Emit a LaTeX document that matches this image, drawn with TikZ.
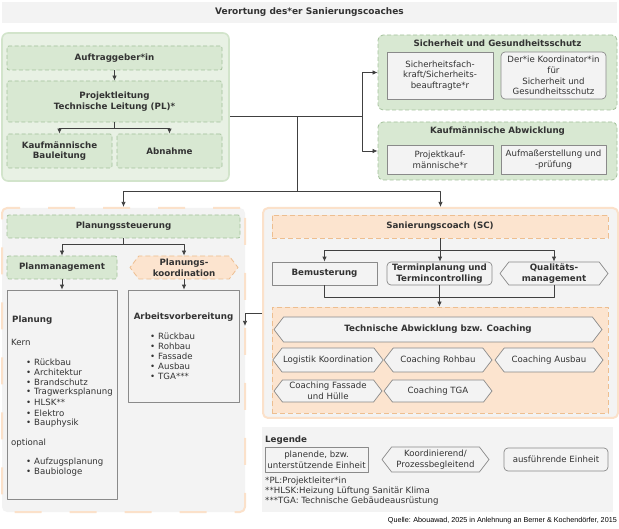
\documentclass[tikz,border=0pt]{standalone}
\usepackage{fontspec}
\setmainfont{DejaVu Sans}
\newfontfamily\quellfont{Liberation Sans}
\usetikzlibrary{arrows.meta,shapes.symbols}
\definecolor{txt}{HTML}{333333}
\definecolor{lncol}{HTML}{404040}
\definecolor{bgcol}{HTML}{F3F3F3}
\definecolor{grnfill}{HTML}{D8E8D2}
\definecolor{grnline}{HTML}{A3C19B}
\definecolor{grnbg}{HTML}{E8F1E4}
\definecolor{grnbgline}{HTML}{D2E4CB}
\definecolor{orfill}{HTML}{FCE4CF}
\definecolor{orline}{HTML}{EDBE90}
\definecolor{orbgline}{HTML}{FBE1CA}
\definecolor{gryfill}{HTML}{F3F3F3}
\definecolor{gryline}{HTML}{8A8A8A}
\newcommand{\fnorm}{\fontsize{8.6}{10.6}\selectfont}
\newcommand{\fbold}{\fontsize{8.7}{10.6}\selectfont\bfseries}
\begin{document}
\begin{tikzpicture}[x=1pt,y=-1pt,font=\fnorm,line join=round,>={Latex[length=5pt,width=4.4pt]}]
	\tikzset{box/.style={inner sep=1pt, align=center, text=txt},
		head/.style={box, font=\fbold},
		grn/.style={head, draw=grnline, fill=grnfill, dash pattern=on 4pt off 2.5pt, line width=0.8pt, rounded corners=2pt},
		grnct/.style={draw=grnline, fill=grnfill, dash pattern=on 4pt off 2.5pt, line width=0.8pt, rounded corners=5pt},
		orn/.style={head, draw=orline, fill=orfill, dash pattern=on 5pt off 3pt, line width=0.8pt},
		gry/.style={box, draw=gryline, fill=gryfill, line width=0.7pt},
		gryr/.style={gry, rounded corners=4pt},
		hex/.style={gry, shape=signal, signal to=west and east, signal pointer angle=105},
		orhex/.style={orn, shape=signal, signal to=west and east, signal pointer angle=105},
		item/.style={box, anchor=west, inner sep=0pt},
		ln/.style={draw=lncol, line width=0.75pt}}
	\useasboundingbox (0,0) rectangle (619,529);
	% Titel
	\node[fill=bgcol, font=\fontsize{9}{11}\selectfont\bfseries, text=txt, minimum width=615, minimum height=21] (titel) at (309.5,12.5) {Verortung des*er Sanierungscoaches};
	% Auftraggeber
	\node[draw=grnbgline, fill=grnbg, line width=1.6pt, rounded corners=6pt, minimum width=227, minimum height=148] (oben) at (115.5,107) {};
	\node[grn, minimum width=215, minimum height=24] (ag) at (114.5,58) {Auftraggeber*in};
	\node[grn, minimum width=215, minimum height=41] (pl) at (114.5,101.5) {Projektleitung\\Technische Leitung (PL)*};
	\node[grn, minimum width=105, minimum height=34] (kbl) at (59.5,151) {Kaufmännische\\Bauleitung};
	\node[grn, minimum width=105, minimum height=34] (abn) at (169.5,151) {Abnahme};
	\draw[ln,->] (ag) -- (pl);
	\draw[ln,->] (pl.south) -- ++(0,6) -| (kbl.north);
	\draw[ln,->] (pl.south) -- ++(0,6) -| (abn.north);
	% Sicherheit / Kaufmaennisch
	\node[grnct, minimum width=239, minimum height=75, label={[head, anchor=north, yshift=-4pt]north:Sicherheit und Gesundheitsschutz}] (sgs) at (497.5,72.5) {};
	\node[gry, minimum width=106, minimum height=47] (sifa) at (440,75.5) {Sicherheitsfach-\\kraft/Sicherheits-\\beauftragte*r};
	\node[gryr, minimum width=105, minimum height=47] (siko) at (553.5,75.5) {Der*ie Koordinator*in\\für\\Sicherheit und\\Gesundheitsschutz};
	\node[grnct, minimum width=239, minimum height=58, label={[head, anchor=north, yshift=-4pt]north:Kaufmännische Abwicklung}] (kfa) at (497.5,151) {};
	\node[gry, minimum width=106, minimum height=29] (pkm) at (440,159.5) {Projektkauf-\\männische*r};
	\node[gry, minimum width=105, minimum height=29] (aufm) at (553.5,159.5) {Aufmaßerstellung und\\-prüfung};
	% Planung (links)
	\node[draw=orbgline, fill=bgcol, line width=2pt, dash pattern=on 27pt off 28pt, rounded corners=5pt, minimum width=243, minimum height=304] (links) at (123.5,360) {};
	\node[grn, minimum width=233, minimum height=23] (pst) at (123.5,226.5) {Planungssteuerung};
	\node[grn, minimum width=110, minimum height=23] (pm) at (62,267.5) {Planmanagement};
	\node[orhex, minimum width=108, minimum height=23] (pko) at (184,267.5) {Planungs-\\koordination};
	\node[gry, minimum width=110, minimum height=209] (pla) at (62,394.5) {};
	\node[gry, minimum width=111, minimum height=112] (avb) at (183.5,346) {};
	\draw[ln,->] (pst.south) -- ++(0,6) -| (pm.north);
	\draw[ln,->] (pst.south) -- ++(0,6) -| (pko.north);
	\draw[ln,->] (pm) -- (pla);
	\draw[ln,->] (pko.south) -- (pko.south |- avb.north);
	\node[head, anchor=west] (plT) at (11,320) {Planung};
	\node[item] (kern) at (11,342) {Kern};
	\foreach \t [count=\i from 0] in {Rückbau,Architektur,Brandschutz,Tragwerksplanung,HLSK**,Elektro,Bauphysik}
		\node[item] (pk\i) at (26,362+10.2*\i) {\makebox[8pt][l]{•}\t};
	\node[item] (opt) at (11,443) {optional};
	\foreach \t [count=\i from 0] in {Aufzugsplanung,Baubiologe}
		\node[item] (po\i) at (26,462+10.2*\i) {\makebox[8pt][l]{•}\t};
	\node[head] (avbT) at (183.5,317) {Arbeitsvorbereitung};
	\foreach \t [count=\i from 0] in {Rückbau,Rohbau,Fassade,Ausbau,TGA***}
		\node[item] (av\i) at (150,336+10.2*\i) {\makebox[8pt][l]{•}\t};
	% Sanierungscoach (rechts)
	\node[draw=orbgline, fill=bgcol, line width=2pt, rounded corners=5pt, minimum width=355, minimum height=210] (rechts) at (440.5,313) {};
	\node[orn, minimum width=336, minimum height=23] (sc) at (440,226.5) {Sanierungscoach (SC)};
	\node[gry, font=\fbold, minimum width=105, minimum height=23] (bem) at (324.5,273.5) {Bemusterung};
	\node[gryr, font=\fbold, minimum width=105, minimum height=23] (term) at (439.5,273.5) {Terminplanung und\\Termincontrolling};
	\node[hex, font=\fbold, minimum width=108, minimum height=23] (qm) at (554,273.5) {Qualitäts-\\management};
	\node[draw=orline, fill=orfill, dash pattern=on 5pt off 3pt, line width=0.8pt, minimum width=336, minimum height=106] (tcb) at (440,360) {};
	\node[hex, font=\fbold, minimum width=328, minimum height=25] (tech) at (438,329.5) {Technische Abwicklung bzw. Coaching};
	\node[hex, minimum width=108, minimum height=24] (logk) at (328,360) {Logistik Koordination};
	\node[hex, minimum width=108, minimum height=24] (croh) at (438,360) {Coaching Rohbau};
	\node[hex, minimum width=108, minimum height=24] (caus) at (549,360) {Coaching Ausbau};
	\node[hex, minimum width=108, minimum height=22] (cfas) at (328,391) {Coaching Fassade\\und Hülle};
	\node[hex, minimum width=108, minimum height=22] (ctga) at (438,391) {Coaching TGA};
	\draw[ln,->] (sc.south) -- (sc.south |- term.north);
	\draw[ln,->] (sc.south) ++(0,12) -| (bem.north);
	\draw[ln,->] (sc.south) ++(0,12) -| (qm.north);
	\draw[ln] (bem.south) -- ++(0,12) -| (qm.south);
	\draw[ln,->] (term.south) -- (term.south |- tcb.north);
	\coordinate (lk) at (245,326);
	\draw[ln,->] (rechts.west) -| (lk);
	% Verbindungen oben
	\coordinate (j1) at (297,116);
	\coordinate (j2) at (297,191);
	\draw[ln] (oben.east |- j1) -- (j1) -- (j2);
	\draw[ln,->] (j1) -- ++(65,0) |- (sgs.west);
	\draw[ln,->] (j1) -- ++(65,0) |- (kfa.west);
	\draw[ln,->] (j2) -| (links.north);
	\draw[ln,->] (j2) -| (rechts.north);
	% Legende
	\node[fill=bgcol, minimum width=351, minimum height=85] (leg) at (437.5,469.5) {};
	\node[head, anchor=west, inner sep=0pt] (legT) at (265,440) {Legende};
	\node[gry, minimum width=103, minimum height=25] (lg1) at (316.5,459.5) {planende, bzw.\\unterstützende Einheit};
	\node[hex, minimum width=107, minimum height=25] (lg2) at (435.5,459.5) {Koordinierend/\\Prozessbegleitend};
	\node[gryr, minimum width=104, minimum height=23] (lg3) at (556,459.5) {ausführende Einheit};
	\node[box, anchor=north west, align=left, inner sep=0pt, font=\fontsize{8.6}{10}\selectfont] (fn) at (265,477) {*PL:Projektleiter*in\\**HLSK:Heizung Lüftung Sanitär Klima\\***TGA: Technische Gebäudeausrüstung};
	\node[anchor=east, inner sep=0pt, font=\quellfont\fontsize{7.2}{9}\selectfont] (quelle) at (617,521) {Quelle: Abouawad, 2025 in Anlehnung an Berner \& Kochendörfer, 2015};
\end{tikzpicture}
\end{document}
